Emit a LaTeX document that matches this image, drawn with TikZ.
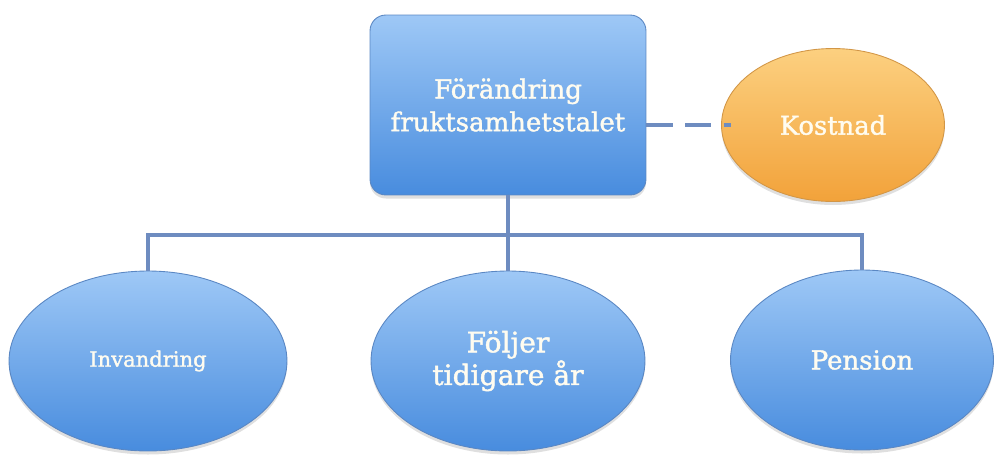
\documentclass[tikz,border=0pt]{standalone}
\usepackage{fontspec}
\setmainfont{DejaVu Serif}
\newfontfamily\lblfont[FakeBold=1.5]{DejaVu Serif}
\usepackage{xcolor}
\usepackage{tikz}
\usetikzlibrary{shapes.geometric,shadows,calc}

\definecolor{boxtop}{RGB}{158,200,246}
\definecolor{boxbot}{RGB}{72,140,222}
\definecolor{boxline}{RGB}{90,135,195}
\definecolor{orgtop}{RGB}{252,208,128}
\definecolor{orgbot}{RGB}{242,162,58}
\definecolor{orgline}{RGB}{210,150,70}
\definecolor{linkcol}{RGB}{110,140,192}
\definecolor{lbltext}{RGB}{255,252,240}

\begin{document}
\begin{tikzpicture}[x=0.02cm,y=-0.02cm,
every node/.style={align=center,text=lbltext,inner sep=2pt},
bluebox/.style={draw=boxline,line width=.5pt,top color=boxtop,bottom color=boxbot,
  drop shadow={opacity=.25,shadow xshift=0pt,shadow yshift=-2pt}},
blueoval/.style={bluebox,ellipse},
orgoval/.style={ellipse,draw=orgline,line width=.5pt,top color=orgtop,bottom color=orgbot,
  drop shadow={opacity=.25,shadow xshift=0pt,shadow yshift=-2pt}},
link/.style={draw=linkcol,line width=2.8pt},
dashlink/.style={link,dash pattern=on 15pt off 7pt}]
\useasboundingbox (0,0) rectangle (995,454);
% nodes
\node[bluebox,rounded corners=9pt,minimum width=5.52cm,minimum height=3.6cm,font=\lblfont\fontsize{14.8}{18.7}\selectfont] (top) at (508,105) {Förändring\\fruktsamhetstalet};
\node[orgoval,minimum width=4.46cm,minimum height=3.06cm,font=\lblfont\fontsize{14.7}{17}\selectfont] (kost) at (833,125) {Kostnad};
\node[blueoval,minimum width=5.56cm,minimum height=3.6cm,font=\lblfont\fontsize{12}{14}\selectfont] (inv) at (148,361) {Invandring};
\node[blueoval,minimum width=5.48cm,minimum height=3.6cm,font=\lblfont\fontsize{16}{17}\selectfont] (fol) at (508,361) {Följer\\tidigare år};
\node[blueoval,minimum width=5.26cm,minimum height=3.6cm,font=\lblfont\fontsize{14.8}{17}\selectfont] (pen) at (862,360) {Pension};
\coordinate (hub) at (508,235);
% connectors
\draw[link] (top.south) -- (hub);
\draw[link] (inv.north) |- (hub) -| (pen.north);
\draw[link] (hub) -- (fol.north);
\draw[dashlink] (top.east |- kost.west) -- ($(kost.west)+(10,0)$);
\end{tikzpicture}
\end{document}
